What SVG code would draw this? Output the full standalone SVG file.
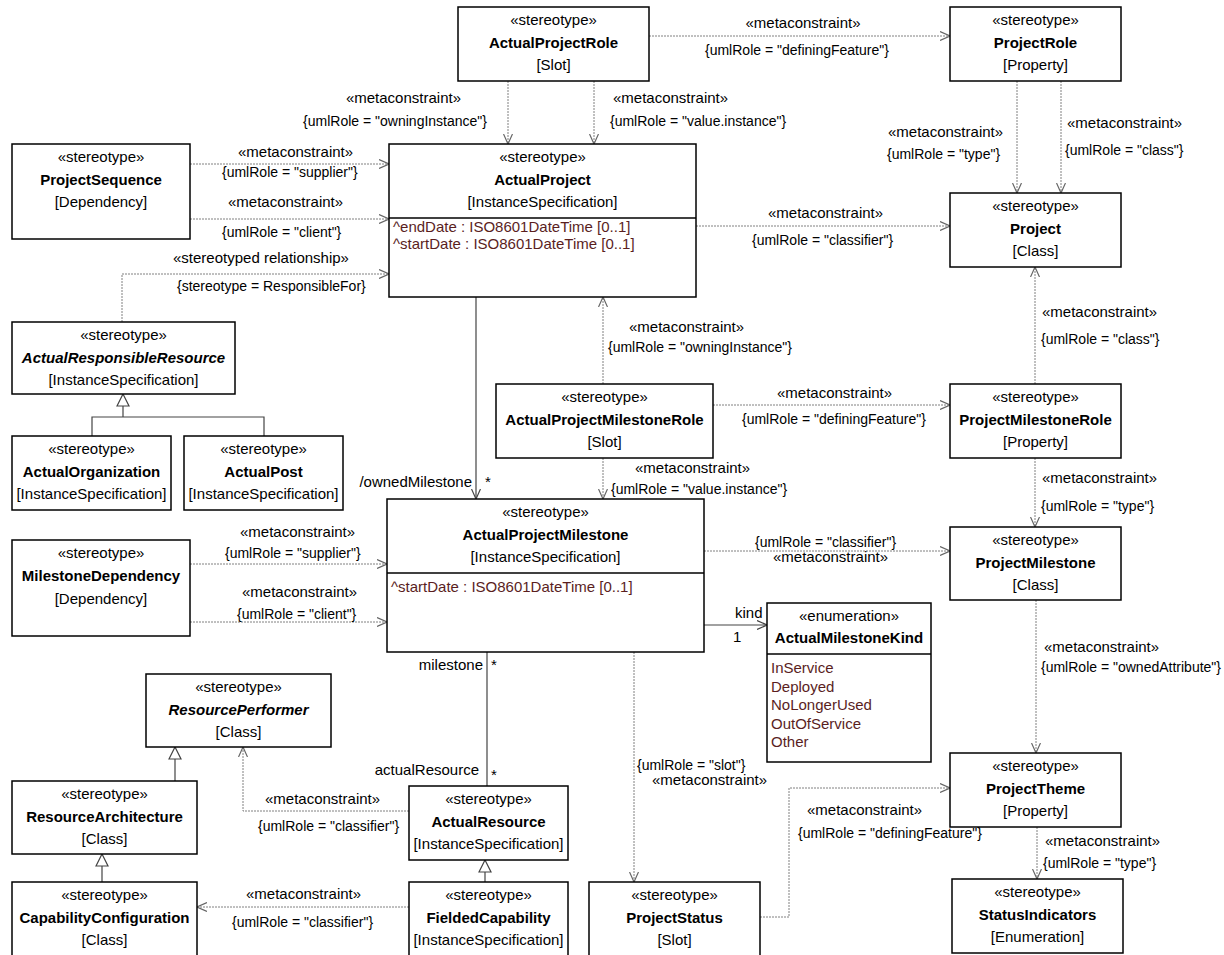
<svg xmlns="http://www.w3.org/2000/svg" width="1224" height="955" viewBox="0 0 1224 955">
<style>
.box{fill:#fff;stroke:#000;stroke-width:1.5}
.sep{stroke:#000;stroke-width:1.5}
text{font-family:"Liberation Sans",Arial,sans-serif;font-size:15px;fill:#000}
.c{text-anchor:middle}
.e{text-anchor:end}
.b{font-weight:bold}
.i{font-style:italic}
.l{font-size:14px}
.a{fill:#5a1e1e}
.dep{fill:none;stroke:#808080;stroke-width:1;stroke-dasharray:2 1;marker-end:url(#open)}
.asc{fill:none;stroke:#444;stroke-width:1.2}
.asca{fill:none;stroke:#444;stroke-width:1.2;marker-end:url(#openS)}
.gen{fill:none;stroke:#444;stroke-width:1.2}
.gena{fill:none;stroke:#444;stroke-width:1.2;marker-end:url(#tri)}
</style>
<defs>
<marker id="open" viewBox="0 0 10 10" refX="10" refY="5" markerWidth="10" markerHeight="10" markerUnits="userSpaceOnUse" orient="auto"><path d="M0,0.5 L10,5 L0,9.5" fill="none" stroke="#666" stroke-width="1.2"/></marker>
<marker id="openS" viewBox="0 0 10 10" refX="10" refY="5" markerWidth="10" markerHeight="10" markerUnits="userSpaceOnUse" orient="auto"><path d="M0,0.5 L10,5 L0,9.5" fill="none" stroke="#444" stroke-width="1.2"/></marker>
<marker id="tri" viewBox="0 0 14 14" refX="13" refY="7" markerWidth="14" markerHeight="14" markerUnits="userSpaceOnUse" orient="auto"><path d="M1,1 L13,7 L1,13 Z" fill="#fff" stroke="#444" stroke-width="1.2"/></marker>
</defs>
<rect width="1224" height="955" fill="#fff"/>

<g id="connectors">
<path class="dep" d="M649,36 H950"/>
<path class="dep" d="M508,81 V144"/>
<path class="dep" d="M594,81 V144"/>
<path class="dep" d="M1017,81 V193"/>
<path class="dep" d="M1061,81 V193"/>
<path class="dep" d="M190,164 H389"/>
<path class="dep" d="M190,219 H389"/>
<path class="dep" d="M122,322 V274 H389"/>
<path class="dep" d="M696,226 H950"/>
<path class="gen" d="M92,436 V417 H264 V436"/>
<path class="gena" d="M123,417 V394"/>
<path class="asca" d="M476,297 V499"/>
<path class="dep" d="M603,384 V297"/>
<path class="dep" d="M603,458 V499"/>
<path class="dep" d="M713,405 H950"/>
<path class="dep" d="M1035,384 V267"/>
<path class="dep" d="M1035,458 V527"/>
<path class="dep" d="M190,564 H387"/>
<path class="dep" d="M190,622 H387"/>
<path class="dep" d="M704,551 H950"/>
<path class="asca" d="M704,625 H767"/>
<path class="dep" d="M1036,600 V753"/>
<path class="dep" d="M1037,827 V879"/>
<path class="dep" d="M634,652 V882"/>
<path class="dep" d="M760,917 H789 V788 H950"/>
<path class="asc" d="M487,652 V786"/>
<path class="dep" d="M409,811 H243 V747"/>
<path class="gena" d="M175,781 V747"/>
<path class="gena" d="M102,882 V854"/>
<path class="gena" d="M485,882 V860"/>
<path class="dep" d="M409,907 H197"/>
</g>

<g id="connector-labels">
<text x="803" y="28" class="c">«metaconstraint»</text>
<text x="705" y="55" class="l">{umlRole = "definingFeature"}</text>
<text x="461" y="103" class="e">«metaconstraint»</text>
<text x="487" y="126" class="l e">{umlRole = "owningInstance"}</text>
<text x="613" y="103">«metaconstraint»</text>
<text x="610" y="126" class="l">{umlRole = "value.instance"}</text>
<text x="888" y="137">«metaconstraint»</text>
<text x="887" y="159" class="l">{umlRole = "type"}</text>
<text x="1067" y="128">«metaconstraint»</text>
<text x="1065" y="155" class="l">{umlRole = "class"}</text>
<text x="238" y="157">«metaconstraint»</text>
<text x="222" y="177" class="l">{umlRole = "supplier"}</text>
<text x="228" y="207">«metaconstraint»</text>
<text x="222" y="237" class="l">{umlRole = "client"}</text>
<text x="173" y="263">«stereotyped relationship»</text>
<text x="177" y="291" class="l">{stereotype = ResponsibleFor}</text>
<text x="768" y="218">«metaconstraint»</text>
<text x="752" y="245" class="l">{umlRole = "classifier"}</text>
<text x="629" y="332">«metaconstraint»</text>
<text x="608" y="352" class="l">{umlRole = "owningInstance"}</text>
<text x="777" y="398">«metaconstraint»</text>
<text x="742" y="424" class="l">{umlRole = "definingFeature"}</text>
<text x="1042" y="317">«metaconstraint»</text>
<text x="1041" y="344" class="l">{umlRole = "class"}</text>
<text x="635" y="473">«metaconstraint»</text>
<text x="611" y="494" class="l">{umlRole = "value.instance"}</text>
<text x="1042" y="483">«metaconstraint»</text>
<text x="1041" y="511" class="l">{umlRole = "type"}</text>
<text x="472" y="487" class="e">/ownedMilestone</text>
<text x="485" y="487">*</text>
<text x="240" y="537">«metaconstraint»</text>
<text x="225" y="558" class="l">{umlRole = "supplier"}</text>
<text x="242" y="597">«metaconstraint»</text>
<text x="237" y="619" class="l">{umlRole = "client"}</text>
<text x="755" y="547" class="l">{umlRole = "classifier"}</text>
<text x="773" y="562">«metaconstraint»</text>
<text x="735" y="618">kind</text>
<text x="733" y="642">1</text>
<text x="1044" y="652">«metaconstraint»</text>
<text x="1041" y="672" class="l">{umlRole = "ownedAttribute"}</text>
<text x="483" y="670" class="e">milestone</text>
<text x="491" y="670">*</text>
<text x="479" y="775" class="e">actualResource</text>
<text x="491" y="780">*</text>
<text x="637" y="770" class="l">{umlRole = "slot"}</text>
<text x="652" y="785">«metaconstraint»</text>
<text x="807" y="815">«metaconstraint»</text>
<text x="798" y="838" class="l">{umlRole = "definingFeature"}</text>
<text x="1045" y="846">«metaconstraint»</text>
<text x="1043" y="868" class="l">{umlRole = "type"}</text>
<text x="265" y="804">«metaconstraint»</text>
<text x="258" y="831" class="l">{umlRole = "classifier"}</text>
<text x="246" y="899">«metaconstraint»</text>
<text x="232" y="927" class="l">{umlRole = "classifier"}</text>
</g>

<g id="ActualProjectRole">
<rect class="box" x="458" y="7" width="191" height="74"/>
<text x="553.5" y="25" class="c">«stereotype»</text>
<text x="553.5" y="48" class="c b">ActualProjectRole</text>
<text x="553.5" y="70" class="c">[Slot]</text>
</g>
<g id="ProjectRole">
<rect class="box" x="950" y="7" width="171" height="74"/>
<text x="1035.5" y="25" class="c">«stereotype»</text>
<text x="1035.5" y="48" class="c b">ProjectRole</text>
<text x="1035.5" y="70" class="c">[Property]</text>
</g>
<g id="Project">
<rect class="box" x="950" y="193" width="171" height="74"/>
<text x="1035.5" y="211" class="c">«stereotype»</text>
<text x="1035.5" y="234" class="c b">Project</text>
<text x="1035.5" y="256" class="c">[Class]</text>
</g>
<g id="ProjectSequence">
<rect class="box" x="12" y="144" width="178" height="95"/>
<text x="101" y="162" class="c">«stereotype»</text>
<text x="101" y="185" class="c b">ProjectSequence</text>
<text x="101" y="207" class="c">[Dependency]</text>
</g>
<g id="ActualProject">
<rect class="box" x="389" y="144" width="307" height="153"/>
<line class="sep" x1="389" y1="218" x2="696" y2="218"/>
<text x="542.5" y="162" class="c">«stereotype»</text>
<text x="542.5" y="185" class="c b">ActualProject</text>
<text x="542.5" y="207" class="c">[InstanceSpecification]</text>
<text x="393" y="232" class="a">^endDate : ISO8601DateTime [0..1]</text>
<text x="393" y="249" class="a">^startDate : ISO8601DateTime [0..1]</text>
</g>
<g id="ActualResponsibleResource">
<rect class="box" x="12" y="322" width="223" height="72"/>
<text x="123.5" y="340" class="c">«stereotype»</text>
<text x="123.5" y="363" class="c b i">ActualResponsibleResource</text>
<text x="123.5" y="385" class="c">[InstanceSpecification]</text>
</g>
<g id="ActualOrganization">
<rect class="box" x="12" y="436" width="159" height="74"/>
<text x="91.5" y="454" class="c">«stereotype»</text>
<text x="91.5" y="477" class="c b">ActualOrganization</text>
<text x="91.5" y="499" class="c">[InstanceSpecification]</text>
</g>
<g id="ActualPost">
<rect class="box" x="184" y="436" width="159" height="74"/>
<text x="263.5" y="454" class="c">«stereotype»</text>
<text x="263.5" y="477" class="c b">ActualPost</text>
<text x="263.5" y="499" class="c">[InstanceSpecification]</text>
</g>
<g id="ActualProjectMilestoneRole">
<rect class="box" x="496" y="384" width="217" height="74"/>
<text x="604.5" y="402" class="c">«stereotype»</text>
<text x="604.5" y="425" class="c b">ActualProjectMilestoneRole</text>
<text x="604.5" y="447" class="c">[Slot]</text>
</g>
<g id="ProjectMilestoneRole">
<rect class="box" x="950" y="384" width="171" height="74"/>
<text x="1035.5" y="402" class="c">«stereotype»</text>
<text x="1035.5" y="425" class="c b">ProjectMilestoneRole</text>
<text x="1035.5" y="447" class="c">[Property]</text>
</g>
<g id="ActualProjectMilestone">
<rect class="box" x="387" y="499" width="317" height="153"/>
<line class="sep" x1="387" y1="573" x2="704" y2="573"/>
<text x="545.5" y="517" class="c">«stereotype»</text>
<text x="545.5" y="540" class="c b">ActualProjectMilestone</text>
<text x="545.5" y="562" class="c">[InstanceSpecification]</text>
<text x="391" y="592" class="a">^startDate : ISO8601DateTime [0..1]</text>
</g>
<g id="MilestoneDependency">
<rect class="box" x="12" y="540" width="178" height="96"/>
<text x="101" y="558" class="c">«stereotype»</text>
<text x="101" y="581" class="c b">MilestoneDependency</text>
<text x="101" y="604" class="c">[Dependency]</text>
</g>
<g id="ProjectMilestone">
<rect class="box" x="950" y="527" width="171" height="73"/>
<text x="1035.5" y="545" class="c">«stereotype»</text>
<text x="1035.5" y="568" class="c b">ProjectMilestone</text>
<text x="1035.5" y="590" class="c">[Class]</text>
</g>
<g id="ActualMilestoneKind">
<rect class="box" x="767" y="603" width="164" height="159"/>
<line class="sep" x1="767" y1="654" x2="931" y2="654"/>
<text x="849" y="621" class="c">«enumeration»</text>
<text x="849" y="643" class="c b">ActualMilestoneKind</text>
<text x="771" y="673" class="a">InService</text>
<text x="771" y="691.5" class="a">Deployed</text>
<text x="771" y="710" class="a">NoLongerUsed</text>
<text x="771" y="728.5" class="a">OutOfService</text>
<text x="771" y="747" class="a">Other</text>
</g>
<g id="ResourcePerformer">
<rect class="box" x="146" y="674" width="185" height="73"/>
<text x="238.5" y="692" class="c">«stereotype»</text>
<text x="238.5" y="715" class="c b i">ResourcePerformer</text>
<text x="238.5" y="737" class="c">[Class]</text>
</g>
<g id="ResourceArchitecture">
<rect class="box" x="12" y="781" width="185" height="73"/>
<text x="104.5" y="799" class="c">«stereotype»</text>
<text x="104.5" y="822" class="c b">ResourceArchitecture</text>
<text x="104.5" y="844" class="c">[Class]</text>
</g>
<g id="CapabilityConfiguration">
<rect class="box" x="12" y="882" width="185" height="80"/>
<text x="104.5" y="900" class="c">«stereotype»</text>
<text x="104.5" y="923" class="c b">CapabilityConfiguration</text>
<text x="104.5" y="945" class="c">[Class]</text>
</g>
<g id="ActualResource">
<rect class="box" x="409" y="786" width="159" height="74"/>
<text x="488.5" y="804" class="c">«stereotype»</text>
<text x="488.5" y="827" class="c b">ActualResource</text>
<text x="488.5" y="849" class="c">[InstanceSpecification]</text>
</g>
<g id="FieldedCapability">
<rect class="box" x="409" y="882" width="159" height="80"/>
<text x="488.5" y="900" class="c">«stereotype»</text>
<text x="488.5" y="923" class="c b">FieldedCapability</text>
<text x="488.5" y="945" class="c">[InstanceSpecification]</text>
</g>
<g id="ProjectStatus">
<rect class="box" x="589" y="882" width="171" height="80"/>
<text x="674.5" y="900" class="c">«stereotype»</text>
<text x="674.5" y="923" class="c b">ProjectStatus</text>
<text x="674.5" y="945" class="c">[Slot]</text>
</g>
<g id="ProjectTheme">
<rect class="box" x="950" y="753" width="171" height="74"/>
<text x="1035.5" y="771" class="c">«stereotype»</text>
<text x="1035.5" y="794" class="c b">ProjectTheme</text>
<text x="1035.5" y="816" class="c">[Property]</text>
</g>
<g id="StatusIndicators">
<rect class="box" x="952" y="879" width="171" height="74"/>
<text x="1037.5" y="897" class="c">«stereotype»</text>
<text x="1037.5" y="920" class="c b">StatusIndicators</text>
<text x="1037.5" y="942" class="c">[Enumeration]</text>
</g>
</svg>
